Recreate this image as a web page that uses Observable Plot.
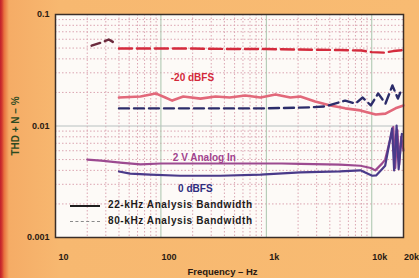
<!DOCTYPE html>
<html><head><meta charset="utf-8">
<script src="https://cdn.jsdelivr.net/npm/d3@7"></script>
<script src="https://cdn.jsdelivr.net/npm/@observablehq/plot@0.6"></script>
<style>
html,body{margin:0;padding:0;}
body{width:419px;height:278px;overflow:hidden;background:linear-gradient(to right,#c01f2a 0px,#d23a30 2px,#e8703e 4px,#f5ac66 9px,#f7b870 60px,#f8bb72 100%);font-family:"Liberation Sans",Arial,sans-serif;}
#wrap{position:relative;width:419px;height:278px;}
.lg{position:absolute;font:bold 10px "Liberation Sans",Arial,sans-serif;color:#1c1a1a;letter-spacing:0.6px;white-space:nowrap;}
.sw{position:absolute;width:30px;height:0;}
</style></head>
<body><div id="wrap"></div>
<script>
// x ticks
const xTicks = [10, 100, 1000, 10000, 20000];
const xTickLabels = ["10", "100", "1k", "10k", "20k"];
const yTicks = [0.001, 0.01, 0.1];
const yTickLabels = ["0.001", "0.01", "0.1"];

// -20 dBFS, 80-kHz (dashed), dark start segment
const darkDashF = [22, 28, 32, 37];
const darkDashV = [0.0525, 0.0565, 0.0597, 0.0550];
// -20 dBFS, 80-kHz (dashed red)
const redDashF = [40, 60, 100, 200, 500, 1000, 2000, 5000, 8000, 10000, 13000, 16000, 20000];
const redDashV = [0.0495, 0.0495, 0.0495, 0.0495, 0.049, 0.049, 0.0485, 0.048, 0.0475, 0.046, 0.0455, 0.047, 0.048];
// -20 dBFS, 22-kHz (solid pink)
const pinkF = [40, 64, 89, 110, 128, 163, 237, 330, 450, 630, 880, 1220, 1690, 2100, 2900, 4050, 5600, 7800, 10900, 13500, 16800, 20000];
const pinkV = [0.0180, 0.0184, 0.0196, 0.0180, 0.0169, 0.0184, 0.0176, 0.0184, 0.0180, 0.0188, 0.0180, 0.0192, 0.0180, 0.0184, 0.0166, 0.0153, 0.0144, 0.0138, 0.0127, 0.0129, 0.0144, 0.0153];
// 0 dBFS / 80-kHz (dashed navy)
const navyDashF = [40, 100, 300, 1000, 2600, 3600, 5600, 7000, 8200, 9800, 11500, 13500, 15700, 17700, 19300];
const navyDashV = [0.0144, 0.0144, 0.0144, 0.0144, 0.0147, 0.0150, 0.0169, 0.0159, 0.0180, 0.0153, 0.0196, 0.0159, 0.0231, 0.0176, 0.0217];
// 2 V Analog In (solid purple)
const purpleF = [20, 27, 41, 64, 100, 240, 1400, 2100, 5000, 7800, 9800, 10800, 12500, 13400, 16000, 16700, 17500, 18200, 19000, 20000];
const purpleV = [0.0050, 0.0049, 0.0047, 0.00452, 0.00461, 0.00461, 0.00461, 0.00458, 0.0045, 0.0044, 0.0042, 0.0040, 0.0046, 0.0050, 0.0098, 0.0042, 0.0092, 0.0045, 0.0080, 0.0060];
// 0 dBFS (solid blue)
const blueF = [40, 51, 79, 152, 366, 880, 2100, 5000, 7800, 10100, 11000, 12500, 13400, 15600, 16300, 17200, 18000, 19300];
const blueV = [0.00391, 0.00374, 0.00366, 0.00358, 0.00358, 0.00366, 0.00383, 0.00391, 0.0040, 0.00358, 0.0036, 0.0041, 0.0044, 0.0095, 0.0040, 0.0101, 0.0041, 0.0085];

// annotation labels
const noteText = ["-20 dBFS", "2 V Analog In", "0 dBFS"];
const noteF = [199, 258, 212];
const noteV = [0.0272, 0.00521, 0.00275];
const noteColor = ["#d3283a", "#a2428e", "#2e2c7e"];

const rows = (F, V) => F.map((f, i) => ({f, v: V[i]}));
const notes = noteText.map((t, i) => ({t, f: noteF[i], v: noteV[i], c: noteColor[i]}));
const decadesX = [10, 100, 1000, 10000];
const minorX = decadesX.flatMap(d => d3.range(2, 10).map(k => k * d)).filter(v => v < 20000);
const minorY = [0.001, 0.01].flatMap(d => d3.range(2, 10).map(k => k * d));

const chart = Plot.plot({
  width: 419, height: 278,
  marginLeft: 55, marginRight: 16, marginTop: 14, marginBottom: 41,
  style: {background: "transparent", fontFamily: "Liberation Sans, Arial, sans-serif", fontWeight: "bold", fontSize: "9px", color: "#2a1a12"},
  x: {type: "log", domain: [10, 20000], axis: null},
  y: {type: "log", domain: [0.001, 0.1], axis: null},
  marks: [
    Plot.frame({fill: "#fdfaf7"}),
    Plot.ruleX(minorX, {stroke: "#dba6b2", strokeWidth: 1, strokeDasharray: "1.5,2"}),
    Plot.ruleY(minorY, {stroke: "#dba6b2", strokeWidth: 1, strokeDasharray: "1.5,2"}),
    Plot.ruleX([100, 1000, 10000], {stroke: "#a9c4ad", strokeWidth: 1}),
    Plot.ruleY([0.01], {stroke: "#b8c0c0", strokeWidth: 1}),
    Plot.line(rows(darkDashF, darkDashV), {x: "f", y: "v", stroke: "#6b2a3c", strokeWidth: 2.4, strokeDasharray: "9,5"}),
    Plot.line(rows(redDashF, redDashV), {x: "f", y: "v", stroke: "#d42a3c", strokeWidth: 2.4, strokeDasharray: "13,5"}),
    Plot.line(rows(pinkF, pinkV), {x: "f", y: "v", stroke: "#e2687a", strokeWidth: 2.6}),
    Plot.line(rows(navyDashF, navyDashV), {x: "f", y: "v", stroke: "#2c2c6a", strokeWidth: 2.4, strokeDasharray: "10,5"}),
    Plot.line(rows(purpleF, purpleV), {x: "f", y: "v", stroke: "#9c4a90", strokeWidth: 2.2}),
    Plot.line(rows(blueF, blueV), {x: "f", y: "v", stroke: "#4a3a8a", strokeWidth: 2.2}),
    Plot.text(notes, {x: "f", y: "v", text: "t", fill: "c", fontSize: 10, fontWeight: "bold"}),
    Plot.frame({stroke: "#3a2e28", strokeWidth: 1.5}),
    Plot.text(xTicks, {x: d => d, frameAnchor: "bottom", dy: 22, dx: 8, text: d => xTickLabels[xTicks.indexOf(d)], fill: "#2a1a12", fontSize: 9, fontWeight: "bold"}),
    Plot.text(yTicks, {y: d => d, frameAnchor: "left", dx: -6, textAnchor: "end", text: d => yTickLabels[yTicks.indexOf(d)], fill: "#2a1a12", fontSize: 9, fontWeight: "bold"}),
    Plot.text(["Frequency \u2013 Hz"], {frameAnchor: "bottom", dy: 37, dx: -7, fill: "#2a1a12", fontSize: 9.5, fontWeight: "bold"}),
    Plot.text(["THD + N \u2013 %"], {frameAnchor: "left", dx: -40, rotate: -90, textAnchor: "middle", fill: "#2d4a22", fontSize: 10, fontWeight: "bold"})
  ]
});
const wrap = document.getElementById("wrap");
wrap.appendChild(chart);

const legendLabels = ["22-kHz Analysis Bandwidth", "80-kHz Analysis Bandwidth"];
const legendStyles = ["2px solid #1e1e1e", "1.5px dashed #8a8a8a"];
legendLabels.forEach((t, i) => {
  const sw = document.createElement("div");
  sw.className = "sw";
  sw.style.left = "70px"; sw.style.top = (205 + i * 16) + "px";
  sw.style.borderTop = legendStyles[i];
  wrap.appendChild(sw);
  const lab = document.createElement("div");
  lab.className = "lg";
  lab.style.left = "108px"; lab.style.top = (199 + i * 16) + "px";
  lab.textContent = t;
  wrap.appendChild(lab);
});
</script></body></html>
